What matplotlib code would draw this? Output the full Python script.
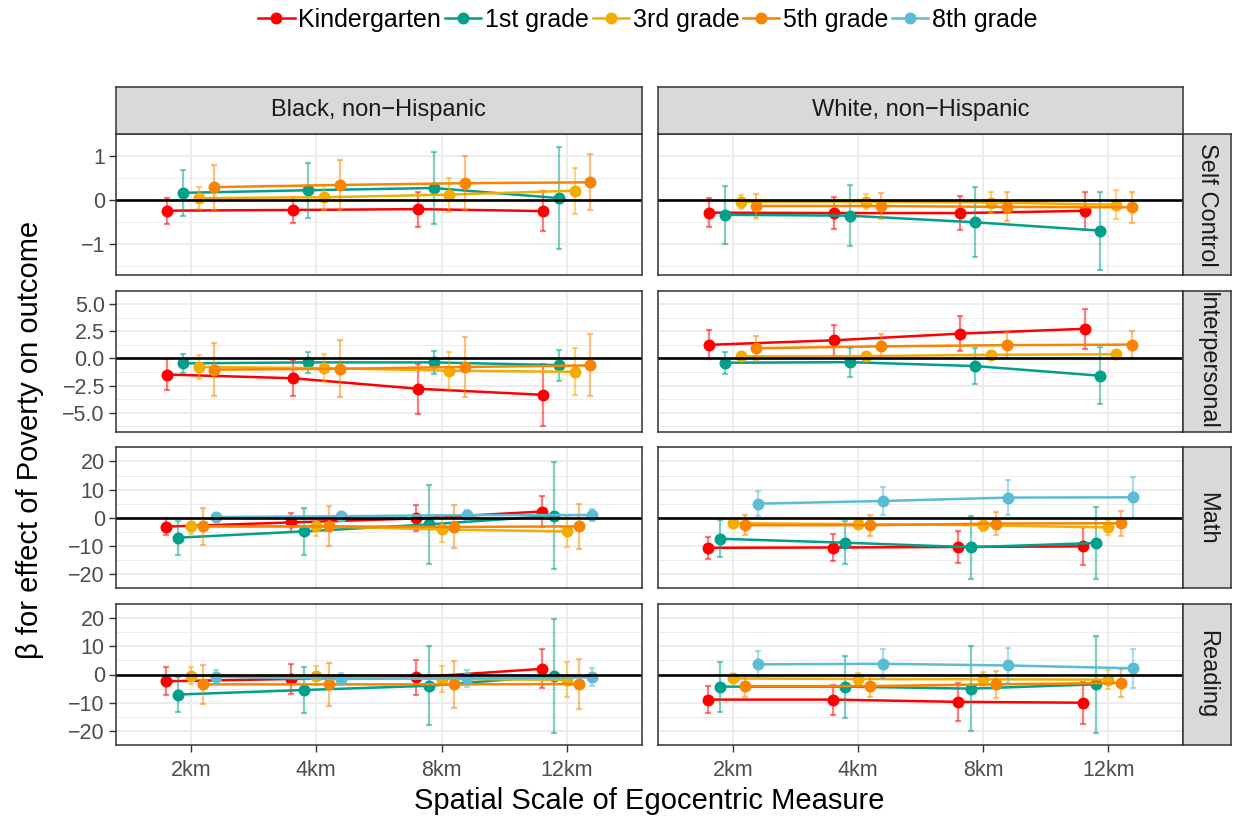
import matplotlib
matplotlib.use("Agg")
import matplotlib.pyplot as plt
from matplotlib.lines import Line2D
import numpy as np

plt.rcParams['font.family'] = ['Liberation Sans', 'DejaVu Sans']

# ---------------- data ----------------
SCALES = ["2km", "4km", "8km", "12km"]
GRADES = ["Kindergarten", "1st grade", "3rd grade", "5th grade", "8th grade"]
COLORS = ["#FF0000", "#00A08A", "#F2AD00", "#F98400", "#5BBCD6"]
RACES = ["Black, non\u2212Hispanic", "White, non\u2212Hispanic"]
OUTCOMES = ["Self Control", "Interpersonal", "Math", "Reading"]

# rows = grades (K, 1st, 3rd, 5th[, 8th]); columns = scales (2km, 4km, 8km, 12km)
SC_BLACK_EST = [[-0.245, -0.23, -0.21, -0.255],
                [0.16, 0.22, 0.27, 0.04],
                [0.04, 0.06, 0.12, 0.21],
                [0.29, 0.34, 0.38, 0.40]]
SC_BLACK_ERR = [[0.295, 0.305, 0.40, 0.45],
                [0.52, 0.63, 0.83, 1.165],
                [0.255, 0.29, 0.385, 0.52],
                [0.51, 0.565, 0.615, 0.64]]
SC_WHITE_EST = [[-0.29, -0.30, -0.30, -0.25],
                [-0.34, -0.36, -0.51, -0.70],
                [-0.04, -0.04, -0.06, -0.11],
                [-0.14, -0.14, -0.16, -0.17]]
SC_WHITE_ERR = [[0.335, 0.36, 0.395, 0.435],
                [0.66, 0.69, 0.80, 0.885],
                [0.16, 0.175, 0.24, 0.325],
                [0.275, 0.305, 0.33, 0.345]]

IP_BLACK_EST = [[-1.48, -1.82, -2.79, -3.35],
                [-0.45, -0.36, -0.36, -0.61],
                [-0.78, -0.89, -1.12, -1.23],
                [-1.03, -0.95, -0.78, -0.64]]
IP_BLACK_ERR = [[1.40, 1.68, 2.32, 2.88],
                [0.865, 1.0, 1.075, 1.425],
                [1.13, 1.27, 1.69, 2.17],
                [2.46, 2.62, 2.79, 2.86]]
IP_WHITE_EST = [[1.26, 1.68, 2.29, 2.74],
                [-0.39, -0.34, -0.70, -1.59],
                [0.20, 0.22, 0.34, 0.39],
                [0.95, 1.12, 1.23, 1.28]]
IP_WHITE_ERR = [[1.35, 1.45, 1.6, 1.85],
                [1.02, 1.34, 1.63, 2.62],
                [0.3, 0.3, 0.35, 0.4],
                [1.13, 1.1, 1.17, 1.23]]

MA_BLACK_EST = [[-3.1, -1.6, -0.2, 2.26],
                [-7.0, -4.8, -2.3, 0.75],
                [-3.0, -3.0, -4.1, -4.8],
                [-3.0, -3.0, -3.2, -3.0],
                [0.3, 0.6, 1.0, 1.0]]
MA_BLACK_ERR = [[2.9, 3.3, 4.6, 5.6],
                [6.0, 8.2, 13.9, 18.9],
                [2.7, 3.4, 4.3, 5.4],
                [6.6, 7.1, 7.6, 8.1],
                [1.5, 1.5, 1.8, 2.0]]
MA_WHITE_EST = [[-10.6, -10.5, -10.3, -10.1],
                [-7.4, -8.8, -10.4, -8.9],
                [-1.9, -2.2, -2.6, -3.4],
                [-2.6, -2.6, -2.0, -1.9],
                [5.05, 6.0, 7.2, 7.3]]
MA_WHITE_ERR = [[3.9, 4.7, 5.7, 6.7],
                [6.6, 7.7, 11.2, 12.7],
                [1.5, 1.6, 2.2, 2.7],
                [3.5, 3.8, 4.1, 4.4],
                [4.5, 4.9, 6.2, 7.3]]

RD_BLACK_EST = [[-2.4, -1.6, -1.0, 2.0],
                [-7.1, -5.5, -4.0, -0.5],
                [-0.5, -0.5, -1.6, -1.9],
                [-3.5, -3.5, -3.5, -3.4],
                [-0.8, -1.6, -1.3, -1.0]]
RD_BLACK_ERR = [[4.9, 5.4, 6.1, 6.9],
                [6.1, 8.1, 14.0, 20.2],
                [3.0, 3.4, 4.5, 6.2],
                [7.0, 7.6, 8.4, 8.9],
                [2.4, 2.3, 3.0, 3.2]]
RD_WHITE_EST = [[-8.9, -8.9, -9.7, -10.0],
                [-4.3, -4.3, -5.0, -3.5],
                [-1.4, -1.6, -1.7, -1.8],
                [-4.1, -4.1, -3.5, -3.0],
                [3.6, 3.8, 3.2, 2.2]]
RD_WHITE_ERR = [[4.8, 5.3, 6.7, 7.4],
                [8.9, 11.0, 15.1, 17.2],
                [1.5, 2.0, 2.5, 3.3],
                [3.8, 4.0, 4.9, 5.0],
                [4.6, 5.1, 6.2, 6.9]]

Y_TICKS = [[-1, 0, 1],
           [-5, -2.5, 0, 2.5, 5],
           [-20, -10, 0, 10, 20],
           [-20, -10, 0, 10, 20]]
Y_TICKLABELS = [["\u22121", "0", "1"],
                ["\u22125.0", "\u22122.5", "0.0", "2.5", "5.0"],
                ["\u221220", "\u221210", "0", "10", "20"],
                ["\u221220", "\u221210", "0", "10", "20"]]
Y_LIMITS = [(-1.71, 1.35), (-6.75, 5.13), (-23.6, 21.5), (-23.15, 21.26)]

PANELS = {
    (0, 0): (SC_BLACK_EST, SC_BLACK_ERR), (0, 1): (SC_WHITE_EST, SC_WHITE_ERR),
    (1, 0): (IP_BLACK_EST, IP_BLACK_ERR), (1, 1): (IP_WHITE_EST, IP_WHITE_ERR),
    (2, 0): (MA_BLACK_EST, MA_BLACK_ERR), (2, 1): (MA_WHITE_EST, MA_WHITE_ERR),
    (3, 0): (RD_BLACK_EST, RD_BLACK_ERR), (3, 1): (RD_WHITE_EST, RD_WHITE_ERR),
}

# ---------------- layout (pixels) ----------------
W, H = 1235, 819
fig = plt.figure(figsize=(W / 100, H / 100), dpi=100)
fig.patch.set_facecolor("white")

COL_X = [(115.7, 642.0), (657.7, 1183.3)]
ROW_Y = [(134.0, 275.0), (290.7, 431.7), (447.4, 588.4), (604.0, 745.0)]
STRIP_TOP = 86.7
STRIP_RIGHT = 1230.7

BORDER = "#333333"
GRID = "#EBEBEB"
STRIP_BG = "#D9D9D9"
TICK_FS = 15.5
STRIP_FS = 17
LINE_W = 1.8
MS = 8.6


def px_axes(x0, x1, y0, y1):
    return fig.add_axes([x0 / W, 1 - y1 / H, (x1 - x0) / W, (y1 - y0) / H])


for r in range(4):
    for c in range(2):
        x0, x1 = COL_X[c]
        y0, y1 = ROW_Y[r]
        ax = px_axes(x0, x1, y0, y1)
        ax.set_facecolor("white")
        est, err = PANELS[(r, c)]
        n = len(est)
        width = 0.5
        base = np.arange(1, len(SCALES) + 1)
        for g in range(n):
            off = (g - (n - 1) / 2) * (width / n)
            xs = base + off
            col = COLORS[g]
            ax.errorbar(xs, est[g], yerr=err[g], fmt="none", ecolor=col,
                        alpha=0.5, elinewidth=1.6, capsize=2.2, capthick=1.6,
                        zorder=3 + g * 0.1)
            ax.plot(xs, est[g], color=col, lw=LINE_W, zorder=3.02 + g * 0.1)
            ax.plot(xs, est[g], "o", color=col, ms=MS, mec="none",
                    zorder=3.05 + g * 0.1)
        ax.axhline(0, color="black", lw=1.9, zorder=10)

        ax.set_xlim(0.4, 4.6)
        ax.set_ylim(*Y_LIMITS[r])
        ticks = Y_TICKS[r]
        step = ticks[1] - ticks[0]
        minor = [t + step / 2 for t in [ticks[0] - step] + ticks]
        ax.set_yticks(ticks)
        ax.set_yticks(minor, minor=True)
        ax.set_xticks(base)
        for t in base:
            ax.axvline(t, color=GRID, lw=1.3, zorder=0.5)
        for t in ticks:
            ax.axhline(t, color=GRID, lw=1.3, zorder=0.5)
        for t in minor:
            ax.axhline(t, color=GRID, lw=0.65, zorder=0.5)

        ax.tick_params(axis="y", which="major", color=BORDER, length=4.8,
                       width=1.0, labelcolor="#4D4D4D", labelsize=TICK_FS, pad=3.0)
        ax.tick_params(axis="x", which="major", color=BORDER, length=4.8,
                       width=1.0, labelcolor="#4D4D4D", labelsize=TICK_FS, pad=6.0)
        ax.tick_params(axis="y", which="minor", length=0)
        if c == 0:
            ax.set_yticklabels(Y_TICKLABELS[r])
        else:
            ax.tick_params(axis="y", which="major", length=0, labelleft=False)
        if r == 3:
            ax.set_xticklabels(SCALES)
        else:
            ax.tick_params(axis="x", which="major", length=0, labelbottom=False)
        for s in ax.spines.values():
            s.set_color(BORDER)
            s.set_linewidth(1.1)
            s.set_zorder(12)

        # right strips
        if c == 1:
            sx = px_axes(x1, STRIP_RIGHT, y0, y1)
            sx.set_facecolor(STRIP_BG)
            sx.set_xticks([]); sx.set_yticks([])
            for s in sx.spines.values():
                s.set_color(BORDER); s.set_linewidth(1.1)
            sx.text(0.5, 0.5, OUTCOMES[r], rotation=-90, ha="center", va="center",
                    fontsize=STRIP_FS, color="#1A1A1A", transform=sx.transAxes,
                    clip_on=True)

# top strips
for c in range(2):
    x0, x1 = COL_X[c]
    sx = px_axes(x0, x1, STRIP_TOP, ROW_Y[0][0])
    sx.set_facecolor(STRIP_BG)
    sx.set_xticks([]); sx.set_yticks([])
    for s in sx.spines.values():
        s.set_color(BORDER); s.set_linewidth(1.1)
    sx.text(0.5, 0.5, RACES[c], ha="center", va="center", fontsize=STRIP_FS,
            color="#1A1A1A", transform=sx.transAxes)

# axis titles
fig.text(649.5 / W, 1 - 801 / H, "Spatial Scale of Egocentric Measure",
         ha="center", va="center", fontsize=21, color="black")
fig.text(30 / W, 1 - 440 / H, "\u03b2 for effect of Poverty on outcome",
         ha="center", va="center", rotation=90, fontsize=21, color="black")

# legend
handles = [Line2D([0], [0], color=COLORS[i], lw=LINE_W, marker="o", ms=MS,
                  mec="none") for i in range(len(GRADES))]
fig.legend(handles, GRADES, loc="center", bbox_to_anchor=(648 / W, 1 - 20 / H),
           ncol=5, frameon=False, fontsize=18, handlelength=1.45,
           handletextpad=0.15, columnspacing=0.15, borderaxespad=0)

fig.savefig("out.png", dpi=100, facecolor="white")
